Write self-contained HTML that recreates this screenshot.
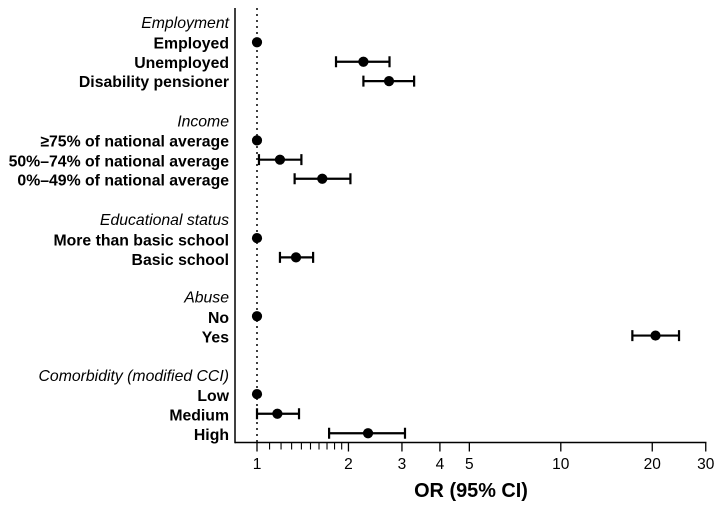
<!DOCTYPE html>
<html>
<head>
<meta charset="utf-8">
<style>
html,body{margin:0;padding:0;background:#fff;width:724px;height:509px;overflow:hidden}
svg{display:block}
text{font-family:"Liberation Sans",sans-serif;fill:#000}
</style>
</head>
<body>
<svg id="chart" width="724" height="509" viewBox="0 0 724 509" xmlns="http://www.w3.org/2000/svg"></svg>
<script>
const headers = ["Employment", "Income", "Educational status", "Abuse", "Comorbidity (modified CCI)"];
const headerRows = [0.62, 5.66, 10.72, 14.7, 18.72];
const categories = ["Employed", "Unemployed", "Disability pensioner", "≥75% of national average", "50%–74% of national average", "0%–49% of national average", "More than basic school", "Basic school", "No", "Yes", "Low", "Medium", "High"];
const categoryRows = [1.63, 2.63, 3.62, 6.66, 7.65, 8.63, 11.67, 12.66, 15.68, 16.67, 19.67, 20.68, 21.68];
const orValues = [1, 2.24, 2.72, 1, 1.19, 1.64, 1, 1.344, 1, 20.5, 1, 1.167, 2.32];
const ciLower = [null, 1.82, 2.24, null, 1.015, 1.33, null, 1.19, null, 17.2, null, 1.0, 1.727];
const ciUpper = [null, 2.73, 3.29, null, 1.40, 2.03, null, 1.53, null, 24.5, null, 1.375, 3.07];
const majorTicks = [1, 2, 3, 4, 5, 10, 20, 30];
const minorTicks = [1.1, 1.2, 1.3, 1.4, 1.5, 1.6, 1.7, 1.8, 1.9];
const xAxisTitle = "OR (95% CI)";

const svg = document.getElementById('chart');
const NS = 'http://www.w3.org/2000/svg';
const xScale = v => 257 + Math.log10(v) * 303.8;
const yScale = r => 10.5 + r * 19.5;
const labelOffset = i => i < 4 ? 6 : i < 6 ? 6.8 : i < 8 ? 7.6 : 6.8;
const axisY = 442.5, axisX = 235;

function make(tag, attrs, parent) {
  const el = document.createElementNS(NS, tag);
  for (const k in attrs) el.setAttribute(k, attrs[k]);
  (parent || svg).appendChild(el);
  return el;
}

const refLine = make('line', {x1: xScale(1), x2: xScale(1), y1: 8, y2: axisY, stroke: '#000', 'stroke-width': 1.5, 'stroke-dasharray': '2 4'});



const yAxis = make('line', {x1: axisX, x2: axisX, y1: 8, y2: axisY + 0.75, stroke: '#000', 'stroke-width': 1.5});



const xAxis = make('line', {x1: axisX, x2: xScale(30) + 0.7, y1: axisY, y2: axisY, stroke: '#000', 'stroke-width': 1.5});



majorTicks.forEach(t => {
  const tick = make('line', {x1: xScale(t), x2: xScale(t), y1: axisY, y2: axisY + 9, stroke: '#000', 'stroke-width': 1.3});
  
  
  const lab = make('text', {x: xScale(t), y: 469, 'text-anchor': 'middle', 'font-size': 15.5});
  lab.textContent = t;
  
  
});

minorTicks.forEach(t => {
  const tick = make('line', {x1: xScale(t), x2: xScale(t), y1: axisY, y2: axisY + 7, stroke: '#000', 'stroke-width': 1.1});
  
  
});

const title = make('text', {x: 471, y: 497, 'text-anchor': 'middle', 'font-size': 19.9, 'font-weight': 'bold'});
title.textContent = xAxisTitle;



headers.forEach((h, i) => {
  const t = make('text', {x: 229, y: yScale(headerRows[i]) + 5.5, 'text-anchor': 'end', 'font-size': 15.8, 'font-style': 'italic'});
  t.textContent = h;
  
  
});

categories.forEach((c, i) => {
  const y = yScale(categoryRows[i]);
  const t = make('text', {x: 229, y: y + labelOffset(i), 'text-anchor': 'end', 'font-size': 15.8, 'font-weight': 'bold'});
  t.textContent = c;
  
  

  if (ciLower[i] !== null) {
    const x1 = xScale(ciLower[i]), x2 = xScale(ciUpper[i]);
    const ci = make('path', {d: `M${x1} ${y}H${x2}M${x1} ${y - 5.5}V${y + 5.5}M${x2} ${y - 5.5}V${y + 5.5}`, stroke: '#000', 'stroke-width': 2.2, fill: 'none'});
    
    
  }
  const dot = make('circle', {cx: xScale(orValues[i]), cy: y, r: 5.1, fill: '#000'});
  
  
});
</script>
</body>
</html>
